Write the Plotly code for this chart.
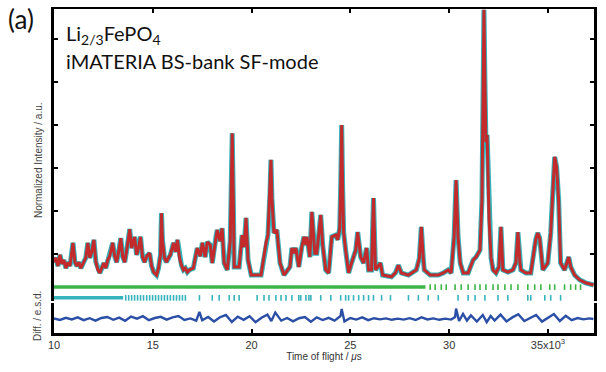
import plotly.graph_objects as go

# ---------------- data (time of flight in 10^3 us, intensity in a.u.) ----------------
tof = [10.00,10.10,10.20,10.30,10.40,10.50,10.60,10.71,10.81,10.96,11.06,11.16,11.26,11.36,11.46,11.61,11.71,11.81,11.91,12.02,
       12.12,12.22,12.32,12.42,12.52,12.62,12.72,12.82,12.97,13.07,13.17,13.27,13.38,13.48,13.58,13.68,13.83,13.93,14.08,14.18,
       14.28,14.38,14.48,14.58,14.69,14.84,14.94,15.04,15.19,15.29,15.39,15.44,15.49,15.59,15.69,15.79,15.89,16.05,16.15,16.25,
       16.35,16.45,16.55,16.65,16.75,16.85,
       17.05,17.25,17.40,17.51,17.65,17.76,17.91,18.01,18.21,18.26,18.40,18.51,18.61,18.77,18.92,18.97,19.02,19.07,19.12,19.37,
       19.52,19.62,19.72,19.82,19.98,20.48,20.73,20.83,20.93,20.98,21.03,21.13,21.28,21.44,21.64,21.94,22.04,22.14,22.24,22.39,
       22.54,22.65,22.75,22.80,22.95,23.05,23.20,23.30,23.50,
       23.60,23.75,23.90,24.06,24.26,24.36,24.46,24.51,24.56,24.61,24.66,24.76,24.91,25.06,25.27,25.37,25.52,25.67,25.82,25.92,
       26.07,26.17,26.27,26.52,26.63,27.08,27.28,27.43,27.58,27.94,28.34,28.49,28.59,28.69,28.74,29.04,29.45,29.70,29.95,30.10,
       30.25,30.35,30.45,30.56,
       30.71,30.96,31.21,31.36,31.56,31.66,31.71,31.76,31.81,31.86,31.92,31.97,32.02,32.12,32.22,32.37,32.52,32.62,32.72,32.97,
       33.23,33.38,33.48,33.58,33.63,33.88,34.13,34.38,34.48,34.58,34.74,34.99,35.14,35.24,35.34,35.44,35.54,35.64,35.84,36.05,
       36.15,36.35,36.60,36.90,37.31]

intensity = [0.81,0.91,0.72,0.98,0.77,0.86,0.67,0.81,0.72,1.26,0.81,0.72,0.81,0.67,0.77,0.91,1.26,0.91,1.05,1.33,
             0.81,0.63,0.56,0.67,0.79,0.67,0.86,0.95,1.26,0.95,0.81,1.05,1.37,0.93,0.81,1.09,1.58,1.14,1.40,0.98,
             1.14,1.40,0.93,0.81,0.95,1.02,0.72,0.58,0.51,0.67,0.98,1.95,1.33,0.91,0.81,0.91,0.98,1.26,1.05,1.33,
             0.91,0.74,0.63,0.67,0.58,0.63,
             0.67,1.14,0.95,1.26,0.93,1.28,1.21,0.79,1.44,1.56,1.30,1.60,0.79,0.63,1.30,2.50,3.81,2.40,0.70,0.70,
             1.44,1.16,1.84,0.86,0.51,0.51,1.26,1.44,2.40,3.19,2.30,1.49,1.56,0.79,0.51,0.70,1.14,1.02,1.14,0.70,
             1.16,1.40,1.21,1.40,0.93,1.98,1.02,1.02,1.91,
             1.20,0.63,0.56,1.40,1.44,1.33,1.60,2.60,4.00,2.50,1.50,1.09,0.56,0.79,1.09,1.51,0.93,0.79,1.14,0.63,
             0.63,2.30,0.63,0.79,0.51,0.47,0.56,0.74,0.56,0.51,0.63,0.90,1.63,0.90,0.63,0.51,0.51,0.56,0.63,0.56,
             1.40,2.72,1.40,0.79,
             0.56,0.56,0.86,0.93,1.09,2.26,5.05,6.68,5.00,3.60,3.77,3.00,1.79,0.91,0.63,0.56,0.70,1.63,0.63,0.58,
             0.63,0.80,1.51,0.80,0.63,0.56,0.56,1.33,1.49,1.37,0.63,0.79,1.49,2.40,3.26,3.02,2.26,0.79,0.63,0.93,
             0.70,0.51,0.40,0.33,0.28]

# reflection positions (10^3 us): dense ranges + individual ticks
green_dense = [10.0, 28.8]
green_ticks = [29.04,29.29,29.60,29.85,30.30,30.61,30.96,31.31,31.56,31.86,32.22,32.47,32.82,33.13,33.48,33.98,
               34.33,34.64,35.09,35.34,35.84,36.15,36.40,36.65]
cyan_dense = [10.0, 13.5]
cyan_ticks = [13.63,13.78,13.93,14.08,14.23,14.38,14.53,14.69,14.84,14.99,15.14,15.29,15.44,15.59,15.74,15.89,16.05,
              16.20,16.35,16.50,16.65,17.36,18.01,18.36,18.87,19.12,19.37,20.28,20.63,20.88,21.23,21.49,21.74,22.04,
              22.39,22.49,22.75,22.90,23.00,23.50,24.01,24.51,24.76,24.91,25.16,25.42,25.67,25.92,26.17,26.58,27.03,
              27.94,28.44,28.94,29.45,30.45,30.96,31.31,31.81,32.47,32.97,33.98,34.13,34.84,35.14,35.64]

# difference curve (e.s.d.)
diff_tof = [10.0,10.3,10.6,10.9,11.2,11.5,11.8,12.1,12.4,12.7,13.0,13.3,13.6,13.9,14.2,14.5,14.8,15.1,15.4,15.7,
            16.0,16.3,16.6,16.9,17.2,17.36,17.5,17.8,18.1,18.4,18.7,19.0,19.3,19.6,19.9,20.2,20.5,20.8,21.0,21.2,
            21.5,21.8,22.1,22.4,22.7,23.0,23.3,23.6,23.9,24.2,24.5,24.56,24.7,25.0,25.3,25.6,25.9,26.2,26.5,26.8,
            27.1,27.4,27.7,28.0,28.3,28.6,28.9,29.2,29.5,29.8,30.1,30.3,30.35,30.5,30.7,30.9,31.1,31.4,31.7,31.9,
            32.1,32.3,32.6,32.9,33.2,33.5,33.8,34.1,34.4,34.7,35.0,35.3,35.6,35.9,36.2,36.5,36.8,37.1,37.3]
diff_val = [0.3,-0.5,0.6,-0.2,0.8,-0.6,0.4,-0.8,0.5,1.0,-0.4,0.7,-0.9,1.2,0.2,1.4,-0.6,0.5,1.1,-0.3,
            0.8,1.5,-0.5,0.3,-0.8,3.5,-0.6,1.0,-1.2,0.9,2.0,-1.5,1.2,-0.4,1.4,-1.6,0.6,2.2,-1.0,3.2,
            -0.8,0.5,-1.2,0.4,1.0,-1.4,0.8,-0.5,0.6,-0.8,1.5,5.0,-1.2,0.5,-0.3,0.8,-0.6,0.4,-0.2,0.3,
            -0.4,0.2,-0.3,0.4,-0.5,0.8,-0.2,0.3,-0.4,0.2,-0.3,1.0,5.2,-1.0,2.5,-0.8,1.8,-1.3,2.0,-1.6,
            1.5,-0.8,2.2,-1.2,0.8,2.4,-1.0,0.6,2.0,-1.3,0.5,2.5,-1.0,1.6,-0.6,0.5,-0.2,0.3,0.0]

x_tickvals = [10, 15, 20, 25, 30, 35]
x_ticktext = ["10", "15", "20", "25", "30", "35x10<sup>3</sup>"]
y_tickvals = [1, 2, 3, 4, 5, 6]

# ---------------- style ----------------
W, H = 606, 372
ML, MR, MT, MB = 54, 9, 9, 39
PW, PH = W - ML - MR, H - MT - MB
def fx(px):
    return (px - ML) / PW
def fy(py):
    return (H - MB - py) / PH

RED = "#c22a2c"
CYAN = "#35b3bb"
GREEN = "#3cb447"
BLUE = "#2b4fa6"
GREEN_ROW = 0.23
CYAN_ROW = -0.02
XR = [10.0, 37.33]

fig = go.Figure()
# observed (cyan) and calculated (red)
fig.add_trace(go.Scatter(x=tof, y=intensity, mode="lines", line=dict(color=CYAN, width=5),
                         xaxis="x2", yaxis="y", showlegend=False))
fig.add_trace(go.Scatter(x=tof, y=intensity, mode="lines", line=dict(color=RED, width=3),
                         xaxis="x2", yaxis="y", showlegend=False))
# reflection markers
fig.add_trace(go.Scatter(x=green_dense, y=[GREEN_ROW] * len(green_dense), mode="lines",
                         line=dict(color=GREEN, width=3.5), xaxis="x2", yaxis="y", showlegend=False))
fig.add_trace(go.Scatter(x=green_ticks, y=[GREEN_ROW] * len(green_ticks), mode="markers",
                         marker=dict(symbol="line-ns", size=4, line=dict(color=GREEN, width=1.6)),
                         xaxis="x2", yaxis="y", showlegend=False))
fig.add_trace(go.Scatter(x=cyan_dense, y=[CYAN_ROW] * len(cyan_dense), mode="lines",
                         line=dict(color=CYAN, width=3.5), xaxis="x2", yaxis="y", showlegend=False))
fig.add_trace(go.Scatter(x=cyan_ticks, y=[CYAN_ROW] * len(cyan_ticks), mode="markers",
                         marker=dict(symbol="line-ns", size=4, line=dict(color=CYAN, width=1.6)),
                         xaxis="x2", yaxis="y", showlegend=False))
# difference
fig.add_trace(go.Scatter(x=diff_tof, y=diff_val, mode="lines", line=dict(color=BLUE, width=2.4),
                         xaxis="x", yaxis="y2", showlegend=False))

main_bottom = fy(301)
diff_top = fy(303)

axis_font = dict(family="Liberation Sans, Arial, sans-serif", size=11, color="#333333")
fig.update_layout(
    width=W, height=H, margin=dict(l=ML, r=MR, t=MT, b=MB),
    paper_bgcolor="white", plot_bgcolor="white",
    xaxis=dict(domain=[0, 1], anchor="y2", range=XR, showline=True, linecolor="black", linewidth=2.5,
               ticks="inside", ticklen=4, tickwidth=2, tickcolor="black", tickvals=x_tickvals,
               ticktext=x_ticktext, tickfont=axis_font, showgrid=False, zeroline=False,
               title=dict(text="Time of flight / <i>μ</i>s", font=dict(family="Liberation Sans, Arial, sans-serif",
                          size=10, color="#333333"), standoff=4)),
    xaxis2=dict(domain=[0, 1], anchor="y", matches="x", side="top", showline=True, linecolor="black",
                linewidth=2.2, ticks="inside", ticklen=4, tickwidth=2, tickcolor="black", tickvals=x_tickvals,
                showticklabels=False, showgrid=False, zeroline=False),
    yaxis=dict(domain=[main_bottom, 1], anchor="x2", range=[-0.093, 6.70], showline=True, linecolor="black",
               linewidth=2.5, mirror="ticks", ticks="inside", ticklen=4, tickwidth=2, tickcolor="black",
               tickvals=y_tickvals, showticklabels=False, showgrid=False, zeroline=False),
    yaxis2=dict(domain=[0, diff_top], anchor="x", range=[-7, 8], showline=True, linecolor="black",
                linewidth=2.5, mirror=True, ticks="", showticklabels=False, showgrid=False, zeroline=False),
)

label_font = dict(family="Liberation Sans, Arial, sans-serif", size=10, color="#444444")
fig.add_annotation(text="Normalized Intensity / a.u.", xref="paper", yref="paper", x=fx(38), y=fy(160),
                   textangle=-90, showarrow=False, font=label_font, xanchor="center", yanchor="middle")
fig.add_annotation(text="Diff. / e.s.d.", xref="paper", yref="paper", x=fx(37), y=fy(316),
                   textangle=-90, showarrow=False, font=label_font, xanchor="center", yanchor="middle")
title_font = dict(family="Lato, Open Sans, sans-serif", size=20, color="#111111")
fig.add_annotation(text="(a)", xref="paper", yref="paper", x=fx(6), y=fy(19), showarrow=False,
                   font=dict(family="Lato, Open Sans, sans-serif", size=26, color="#111111"),
                   xanchor="left", yanchor="middle")
fig.add_annotation(text="Li<sub>2/3</sub>FePO<sub>4</sub>", xref="paper", yref="paper", x=fx(64), y=fy(34),
                   showarrow=False, font=title_font, xanchor="left", yanchor="middle")
fig.add_annotation(text="iMATERIA BS-bank SF-mode", xref="paper", yref="paper", x=fx(64), y=fy(61),
                   showarrow=False, font=title_font, xanchor="left", yanchor="middle")

fig.write_html("out.html")
